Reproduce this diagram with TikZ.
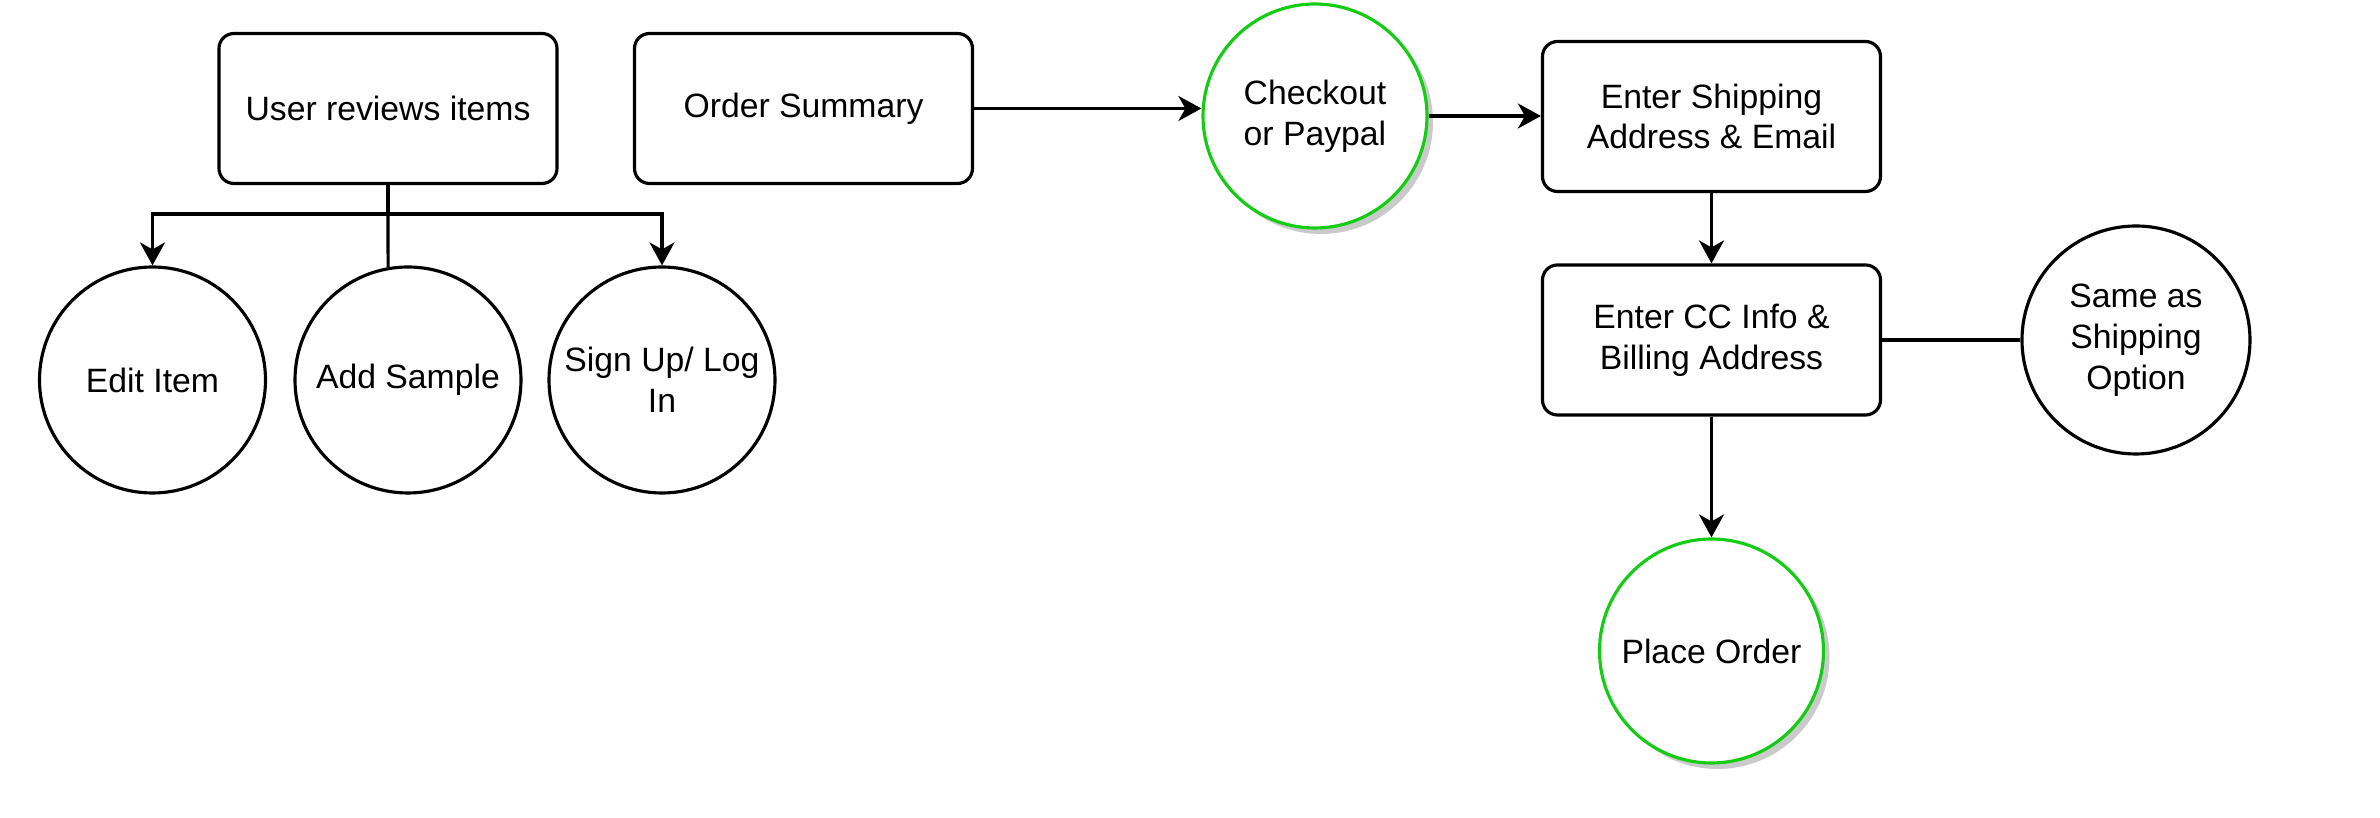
\documentclass[tikz,border=0pt]{standalone}
\usepackage{fontspec}
\setmainfont{Liberation Sans}
\usetikzlibrary{arrows.meta,shadows}
\definecolor{okgreen}{RGB}{20,204,20}
\begin{document}
\begin{tikzpicture}[>={Stealth[length=2.3mm,width=2.5mm,inset=0.7mm]},
	line width=0.9pt,
	font=\fontsize{9.6pt}{11.6pt}\selectfont,
	box/.style={draw, rounded corners=1.5mm, minimum width=3.38cm, minimum height=1.5cm, align=center, inner sep=0pt},
	bubble/.style={draw, circle, minimum size=2.26cm, align=center, inner sep=0pt},
	goal/.style={bubble, draw=okgreen, fill=white, drop shadow={shadow xshift=0.6mm, shadow yshift=-0.6mm, opacity=0.35, fill=black!60}}]
	\useasboundingbox (0, 0) rectangle (23.8, -8.18);

	\node[box] (review) at (3.88, -1.085) {User reviews items};
	\node[box] (summary) at (8.035, -1.085) {Order Summary};
	\node[goal, minimum size=2.24cm] (checkout) at (13.15, -1.16) {Checkout\\or Paypal};
	\node[box] (shipping) at (17.115, -1.165) {Enter Shipping\\Address \& Email};
	\node[box] (billing) at (17.115, -3.40) {Enter CC Info \&\\Billing Address};
	\node[bubble, minimum size=2.28cm] (same) at (21.36, -3.40) {Same as\\Shipping\\Option};
	\node[goal, minimum size=2.24cm] (place) at (17.115, -6.51) {Place Order};

	\node[bubble] (edit) at (1.525, -3.80) {Edit Item};
	\node[bubble] (sample) at (4.08, -3.80) {Add Sample};
	\node[bubble] (signup) at (6.62, -3.80) {Sign Up/ Log\\In};

	\coordinate (fork) at (3.88, -2.14);
	\draw (review.south) -- (fork);
	\draw[->] (fork) -| (edit.north);
	\draw[->] (fork) -| (signup.north);
	\draw (fork) -- (sample.100);

	\draw[->] (summary.east) -- (summary.east -| checkout.west);
	\draw[->] (checkout.east) -- (checkout.east -| shipping.west);
	\draw[->] (shipping.south) -- (billing.north);
	\draw (billing.east) -- (same.west);
	\draw[->] (billing.south) -- (place.north);
\end{tikzpicture}
\end{document}
